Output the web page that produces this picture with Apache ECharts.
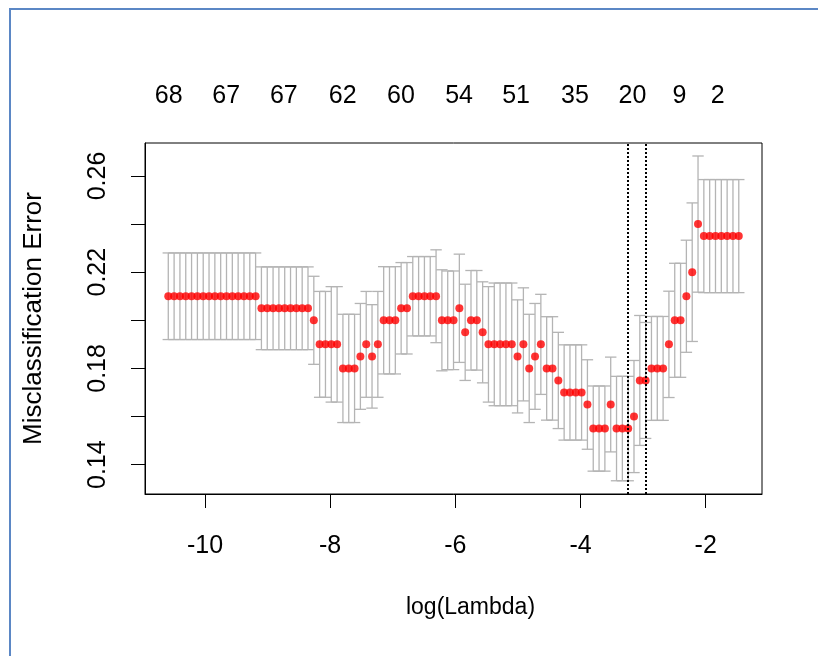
<!DOCTYPE html>
<html>
<head>
<meta charset="utf-8">
<title>cv.glmnet misclassification error</title>
<script src="https://cdn.jsdelivr.net/npm/echarts@6/dist/echarts.min.js"></script>
<style>
  html, body { margin: 0; padding: 0; background: #fff; }
  #frame { position: absolute; left: 9px; top: 8px; width: 809px; height: 648px;
           border-left: 2px solid #5b87c5; border-top: 2px solid #5b87c5; box-sizing: border-box; }
  #chart { position: absolute; left: 0; top: 0; width: 818px; height: 656px; }
</style>
</head>
<body>
<div id="frame"></div>
<div id="chart"></div>
<script>
// log(lambda) path, 99 values, largest lambda at the right
var logLambda = [
  -10.586, -10.493, -10.400, -10.307, -10.214, -10.121, -10.028, -9.935, -9.842, -9.749,
  -9.656, -9.563, -9.470, -9.377, -9.284, -9.191, -9.098, -9.005, -8.912, -8.819,
  -8.726, -8.633, -8.540, -8.447, -8.354, -8.261, -8.168, -8.075, -7.982, -7.889,
  -7.796, -7.703, -7.610, -7.517, -7.424, -7.331, -7.238, -7.145, -7.052, -6.959,
  -6.866, -6.773, -6.680, -6.587, -6.494, -6.401, -6.308, -6.215, -6.122, -6.029,
  -5.936, -5.843, -5.750, -5.657, -5.564, -5.471, -5.378, -5.285, -5.192, -5.099,
  -5.006, -4.913, -4.820, -4.727, -4.634, -4.541, -4.448, -4.355, -4.262, -4.169,
  -4.076, -3.983, -3.890, -3.797, -3.704, -3.611, -3.518, -3.425, -3.332, -3.239,
  -3.146, -3.053, -2.960, -2.867, -2.774, -2.681, -2.588, -2.495, -2.402, -2.309,
  -2.216, -2.123, -2.030, -1.937, -1.844, -1.751, -1.658, -1.565, -1.472
];
// mean misclassification error
var cvm = [
  0.21, 0.21, 0.21, 0.21, 0.21, 0.21, 0.21, 0.21, 0.21, 0.21,
  0.21, 0.21, 0.21, 0.21, 0.21, 0.21, 0.205, 0.205, 0.205, 0.205,
  0.205, 0.205, 0.205, 0.205, 0.205, 0.20, 0.19, 0.19, 0.19, 0.19,
  0.18, 0.18, 0.18, 0.185, 0.19, 0.185, 0.19, 0.20, 0.20, 0.20,
  0.205, 0.205, 0.21, 0.21, 0.21, 0.21, 0.21, 0.20, 0.20, 0.20,
  0.205, 0.195, 0.20, 0.20, 0.195, 0.19, 0.19, 0.19, 0.19, 0.19,
  0.185, 0.19, 0.18, 0.185, 0.19, 0.18, 0.18, 0.175, 0.17, 0.17,
  0.17, 0.17, 0.165, 0.155, 0.155, 0.155, 0.165, 0.155, 0.155, 0.155,
  0.16, 0.175, 0.175, 0.18, 0.18, 0.18, 0.19, 0.20, 0.20, 0.21,
  0.22, 0.24, 0.235, 0.235, 0.235, 0.235, 0.235, 0.235, 0.235
];
// standard error (half length of each bar)
var cvsd = [
  0.018, 0.018, 0.018, 0.018, 0.018, 0.018, 0.018, 0.018, 0.018, 0.018,
  0.018, 0.018, 0.018, 0.018, 0.018, 0.018, 0.0172, 0.0172, 0.0172, 0.0172,
  0.0172, 0.0172, 0.0172, 0.0172, 0.0172, 0.0183, 0.022, 0.022, 0.024, 0.024,
  0.0225, 0.0225, 0.0225, 0.022, 0.022, 0.0215, 0.022, 0.0223, 0.0223, 0.0223,
  0.019, 0.019, 0.0165, 0.0165, 0.0165, 0.0165, 0.0193, 0.021, 0.0205, 0.0205,
  0.0225, 0.020, 0.0207, 0.0207, 0.021, 0.024, 0.0255, 0.0255, 0.0255, 0.0255,
  0.0235, 0.0235, 0.0225, 0.022, 0.0208, 0.0215, 0.0215, 0.020, 0.0198, 0.0198,
  0.0198, 0.0198, 0.0186, 0.0177, 0.0177, 0.0177, 0.0197, 0.0217, 0.0217, 0.0217,
  0.0233, 0.027, 0.0241, 0.0216, 0.0216, 0.0216, 0.0221, 0.0237, 0.0237, 0.0233,
  0.0288, 0.0283, 0.0235, 0.0235, 0.0235, 0.0235, 0.0235, 0.0235, 0.0235
];
// number of nonzero coefficients shown on the top axis
var topPos = [-10.58, -9.66, -8.74, -7.80, -6.87, -5.94, -5.03, -4.09, -3.17, -2.42, -1.81];
var topLabels = ["68", "67", "67", "62", "60", "54", "51", "35", "20", "9", "2"];
var xTicks = [-10, -8, -6, -4, -2];
var yTicks = [0.14, 0.16, 0.18, 0.20, 0.22, 0.24, 0.26];
var yLabels = [0.14, 0.18, 0.22, 0.26];
var lambdaMinLog = -3.239;
var lambda1seLog = -2.960;

var chart = echarts.init(document.getElementById("chart"));

var bars = [];
var pts = [];
for (var i = 0; i < logLambda.length; i++) {
  bars.push([logLambda[i], cvm[i] - cvsd[i], cvm[i] + cvsd[i]]);
  pts.push([logLambda[i], cvm[i]]);
}
var capHalf = (logLambda[logLambda.length - 1] - logLambda[0]) * 0.01;

var font = "Liberation Sans, Arial, sans-serif";

var option = {
  animation: false,
  backgroundColor: "transparent",
  grid: {
    left: 145, top: 143, width: 617, height: 351,
    show: true, borderColor: "#000", borderWidth: 1, backgroundColor: "transparent"
  },
  xAxis: [
    {
      type: "value", position: "bottom",
      min: -10.958, max: -1.101,
      axisLine: { show: true, onZero: false, lineStyle: { color: "#000", width: 1 } },
      axisTick: { show: true, customValues: xTicks, length: 14, lineStyle: { color: "#000" } },
      axisLabel: { customValues: xTicks, color: "#000", fontSize: 25, fontFamily: font, margin: 40 },
      splitLine: { show: false },
      name: "log(Lambda)", nameLocation: "middle", nameGap: 102,
      nameTextStyle: { color: "#000", fontSize: 23, fontFamily: font, padding: [0, 0, 0, 34] }
    },
    {
      type: "value", position: "top",
      min: -10.958, max: -1.101,
      axisLine: { show: false },
      axisTick: { show: false },
      axisLabel: {
        customValues: topPos, color: "#000", fontSize: 25, fontFamily: font, margin: 34,
        formatter: function (v) {
          for (var k = 0; k < topPos.length; k++) {
            if (Math.abs(topPos[k] - v) < 1e-6) return topLabels[k];
          }
          return "";
        }
      },
      splitLine: { show: false }
    }
  ],
  yAxis: {
    type: "value",
    min: 0.1278, max: 0.2737,
    axisLine: { show: true, lineStyle: { color: "#000", width: 1 } },
    axisTick: { show: true, customValues: yTicks, length: 14, lineStyle: { color: "#000" } },
    axisLabel: {
      customValues: yLabels, rotate: 90, color: "#000", fontSize: 25, fontFamily: font, margin: 34,
      formatter: function (v) { return v.toFixed(2); }
    },
    splitLine: { show: false },
    name: "Misclassification Error", nameLocation: "middle", nameRotate: 90, nameGap: 98,
    nameTextStyle: { color: "#000", fontSize: 26, fontFamily: font }
  },
  series: [
    {
      type: "custom",
      name: "bars",
      data: bars,
      silent: true,
      renderItem: function (params, api) {
        var x = api.value(0);
        var lo = api.value(1);
        var hi = api.value(2);
        var top = api.coord([x, hi]);
        var bot = api.coord([x, lo]);
        var l = api.coord([x - capHalf, hi])[0];
        var r = api.coord([x + capHalf, hi])[0];
        var st = { stroke: "#b4b4b4", lineWidth: 1.3 };
        return {
          type: "group",
          children: [
            { type: "line", shape: { x1: top[0], y1: top[1], x2: bot[0], y2: bot[1] }, style: st },
            { type: "line", shape: { x1: l, y1: top[1], x2: r, y2: top[1] }, style: st },
            { type: "line", shape: { x1: l, y1: bot[1], x2: r, y2: bot[1] }, style: st }
          ]
        };
      },
      z: 2
    },
    {
      type: "scatter",
      name: "cvm",
      data: pts,
      symbol: "circle",
      symbolSize: 8,
      itemStyle: { color: "#ff0000" },
      silent: true,
      z: 3,
      markLine: {
        silent: true,
        symbol: ["none", "none"],
        label: { show: false },
        lineStyle: { color: "#000", type: [2, 2], width: 2 },
        data: [{ xAxis: lambdaMinLog }, { xAxis: lambda1seLog }]
      }
    }
  ]
};

chart.setOption(option);
</script>
</body>
</html>
